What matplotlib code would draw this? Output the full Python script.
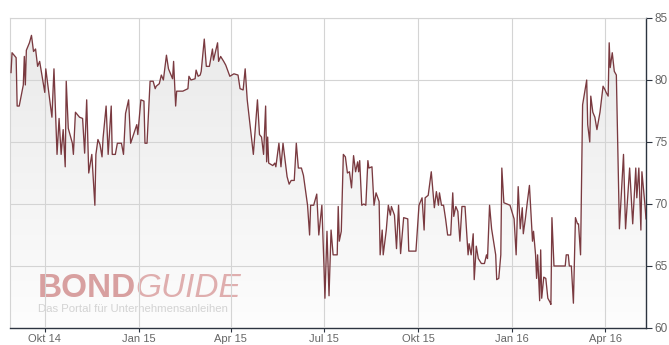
import numpy as np
import pandas as pd
import matplotlib
matplotlib.use("Agg")
import matplotlib.pyplot as plt
import matplotlib.dates as mdates
from matplotlib.colors import LinearSegmentedColormap
from matplotlib.patches import PathPatch

# bond price history
dates = [
    "2014-08-29", "2014-08-30", "2014-09-03", "2014-09-04", "2014-09-06", "2014-09-10", "2014-09-11",
    "2014-09-12", "2014-09-13", "2014-09-16", "2014-09-18", "2014-09-20", "2014-09-22", "2014-09-24", "2014-09-26",
    "2014-10-01", "2014-10-02", "2014-10-08", "2014-10-10", "2014-10-13", "2014-10-15", "2014-10-17",
    "2014-10-19", "2014-10-21", "2014-10-22", "2014-10-24", "2014-10-28", "2014-10-29", "2014-10-31",
    "2014-11-04", "2014-11-07", "2014-11-09", "2014-11-11", "2014-11-13", "2014-11-16", "2014-11-19",
    "2014-11-20", "2014-11-22", "2014-11-24", "2014-11-26", "2014-11-27", "2014-11-30",
    "2014-12-02", "2014-12-05", "2014-12-06", "2014-12-09", "2014-12-11", "2014-12-15", "2014-12-17",
    "2014-12-19", "2014-12-22", "2014-12-24", "2014-12-30", "2014-12-31",
    "2015-01-03", "2015-01-06", "2015-01-07", "2015-01-09", "2015-01-12", "2015-01-15", "2015-01-17",
    "2015-01-18", "2015-01-21", "2015-01-23", "2015-01-25", "2015-01-28", "2015-01-30",
    "2015-02-03", "2015-02-04", "2015-02-06", "2015-02-07", "2015-02-13", "2015-02-18", "2015-02-19",
    "2015-02-21", "2015-02-25", "2015-02-26", "2015-02-28",
    "2015-03-02", "2015-03-03", "2015-03-06", "2015-03-08", "2015-03-11", "2015-03-14", "2015-03-15",
    "2015-03-19", "2015-03-20", "2015-03-22", "2015-03-25", "2015-03-27", "2015-03-31",
    "2015-04-04", "2015-04-08", "2015-04-10", "2015-04-13", "2015-04-15", "2015-04-17", "2015-04-23",
    "2015-04-27", "2015-04-29",
    "2015-05-01", "2015-05-03", "2015-05-05", "2015-05-06", "2015-05-07", "2015-05-08", "2015-05-12",
    "2015-05-14", "2015-05-15", "2015-05-18", "2015-05-20", "2015-05-22", "2015-05-26", "2015-05-28", "2015-05-30",
    "2015-06-02", "2015-06-04", "2015-06-06", "2015-06-09", "2015-06-11", "2015-06-15", "2015-06-17",
    "2015-06-18", "2015-06-21", "2015-06-24", "2015-06-26", "2015-06-29",
    "2015-07-01", "2015-07-02", "2015-07-04", "2015-07-06", "2015-07-08", "2015-07-10", "2015-07-14",
    "2015-07-15", "2015-07-16", "2015-07-18", "2015-07-20", "2015-07-22", "2015-07-24", "2015-07-26",
    "2015-07-28", "2015-07-30",
    "2015-08-01", "2015-08-03", "2015-08-04", "2015-08-05", "2015-08-07", "2015-08-09", "2015-08-11",
    "2015-08-13", "2015-08-14", "2015-08-17", "2015-08-19", "2015-08-21", "2015-08-24", "2015-08-25",
    "2015-08-27", "2015-08-28", "2015-08-31",
    "2015-09-02", "2015-09-04", "2015-09-05", "2015-09-08", "2015-09-10", "2015-09-12", "2015-09-14",
    "2015-09-17", "2015-09-21", "2015-09-22", "2015-09-29",
    "2015-10-02", "2015-10-05", "2015-10-07", "2015-10-08", "2015-10-11", "2015-10-14", "2015-10-17",
    "2015-10-19", "2015-10-21", "2015-10-22", "2015-10-24", "2015-10-26", "2015-10-28", "2015-10-30",
    "2015-11-02", "2015-11-04", "2015-11-05", "2015-11-07", "2015-11-09", "2015-11-11", "2015-11-13",
    "2015-11-16", "2015-11-19", "2015-11-20", "2015-11-22", "2015-11-24", "2015-11-25", "2015-11-27", "2015-11-29",
    "2015-12-02", "2015-12-05", "2015-12-07", "2015-12-08", "2015-12-10", "2015-12-12", "2015-12-16",
    "2015-12-17", "2015-12-19", "2015-12-21", "2015-12-22", "2015-12-24", "2015-12-27", "2015-12-30",
    "2016-01-03", "2016-01-05", "2016-01-07", "2016-01-09", "2016-01-11", "2016-01-12", "2016-01-14",
    "2016-01-16", "2016-01-18", "2016-01-21", "2016-01-22", "2016-01-24", "2016-01-25", "2016-01-26",
    "2016-01-28", "2016-01-29", "2016-01-30",
    "2016-02-01", "2016-02-03", "2016-02-05", "2016-02-07", "2016-02-08", "2016-02-09", "2016-02-11",
    "2016-02-22", "2016-02-23", "2016-02-25", "2016-02-26", "2016-02-28",
    "2016-03-01", "2016-03-03", "2016-03-05", "2016-03-06", "2016-03-08", "2016-03-10", "2016-03-14",
    "2016-03-15", "2016-03-17", "2016-03-18", "2016-03-20", "2016-03-22", "2016-03-24", "2016-03-27", "2016-03-30",
    "2016-04-01", "2016-04-02", "2016-04-04", "2016-04-05", "2016-04-06", "2016-04-08", "2016-04-10",
    "2016-04-12", "2016-04-15", "2016-04-19", "2016-04-21", "2016-04-25", "2016-04-28",
    "2016-05-01", "2016-05-02", "2016-05-04", "2016-05-06", "2016-05-07", "2016-05-10", "2016-05-11",
]

prices = [
    80.6, 82.2, 81.8, 77.9, 77.9, 79.6, 81.9,
    79.6, 82.4, 83.0, 83.6, 82.3, 82.5, 81.1, 81.5,
    79.0, 80.9, 77.0, 80.9, 74.0, 76.9, 74.0,
    76.0, 73.0, 79.9, 76.1, 74.9, 74.0, 77.4,
    77.0, 76.9, 74.1, 78.4, 72.5, 74.0, 69.9,
    74.0, 75.2, 74.8, 73.8, 75.3, 77.9,
    74.0, 77.9, 74.0, 74.0, 74.9, 74.9, 74.0,
    77.3, 78.4, 74.9, 76.4, 75.6,
    78.4, 78.3, 74.9, 74.9, 79.9, 79.9, 79.3,
    79.5, 79.7, 80.4, 80.0, 82.0, 80.9,
    80.1, 81.5, 77.9, 79.1, 79.1, 79.3, 80.3,
    80.0, 80.1, 80.8, 80.3,
    80.4, 80.7, 83.3, 81.1, 81.1, 82.5, 81.6,
    83.0, 81.5, 81.9, 81.5, 81.2, 80.3,
    80.5, 80.4, 79.3, 79.2, 80.9, 78.4, 74.0,
    78.4, 75.6,
    75.4, 74.0, 77.9, 73.4, 75.4, 73.3, 73.1,
    73.3, 73.0, 74.9, 73.0, 74.9, 72.2, 71.6, 71.9,
    71.9, 74.9, 72.9, 72.9, 72.3, 69.9, 67.5,
    69.9, 69.9, 70.8, 67.5, 69.9,
    65.1, 62.4, 67.8, 62.6, 67.9, 65.9, 65.9,
    69.8, 67.0, 67.8, 74.0, 73.8, 72.5, 72.6,
    71.3, 73.9,
    72.6, 73.4, 72.6, 73.5, 69.9, 70.0, 69.9,
    73.5, 72.9, 73.0, 69.9, 70.9, 70.2, 65.9,
    67.9, 65.9, 67.9,
    69.9, 69.1, 69.8, 69.1, 66.4, 69.9, 66.0,
    68.9, 68.8, 66.2, 66.2,
    69.9, 70.5, 67.9, 70.5, 70.7, 72.6, 69.7,
    71.0, 69.9, 70.9, 69.9, 69.9, 68.8, 67.5,
    67.5, 70.9, 69.0, 69.8, 69.4, 67.0, 69.8,
    69.8, 65.9, 66.8, 65.9, 67.6, 63.9, 66.6, 65.6,
    65.2, 65.2, 65.9, 65.6, 69.9, 68.0, 65.9,
    63.9, 64.0, 65.9, 72.9, 70.1, 70.0, 69.9,
    68.8, 65.9, 71.4, 68.0, 69.7, 67.6, 68.8,
    70.2, 71.5, 67.0, 67.8, 65.9, 64.0, 65.9,
    62.2, 66.3, 62.4,
    64.1, 64.0, 62.4, 62.1, 61.9, 68.9, 65.0,
    65.0, 65.9, 65.9, 65.0, 65.0,
    62.0, 68.9, 68.4, 68.4, 65.9, 78.0, 80.0,
    76.4, 75.0, 78.7, 77.4, 77.0, 76.0, 77.4, 79.5,
    79.2, 79.0, 78.7, 83.0, 81.0, 82.2, 80.7,
    80.4, 68.0, 74.0, 68.0, 72.9, 68.4,
    72.9, 70.5, 72.9, 67.9, 72.6, 69.9, 68.8,
]

tick_dates = ["2014-10-01", "2015-01-01", "2015-04-01", "2015-07-01",
              "2015-10-01", "2016-01-01", "2016-04-01"]
tick_labels = ["Okt 14", "Jan 15", "Apr 15", "Jul 15", "Okt 15", "Jan 16", "Apr 16"]
y_ticks = [60, 65, 70, 75, 80, 85]
x_range = ["2014-08-28", "2016-05-11"]

LINE_COLOR = "#7a3a40"
AXIS_COLOR = "#2c3440"
GRID_COLOR = "#d4d4d4"
LABEL_COLOR = "#666666"

plt.rcParams["font.family"] = ["Liberation Sans", "DejaVu Sans"]

t = pd.to_datetime(dates)
x0, x1 = mdates.date2num(pd.to_datetime(x_range))

W, H = 669, 345
fig = plt.figure(figsize=(W / 100, H / 100), dpi=100)
ax = fig.add_axes([10 / W, 17 / H, 636 / W, 310 / H])

# gradient under the line, clipped to the area below the curve
area = ax.fill_between(t, prices, 60, facecolor="none", edgecolor="none")
clip = PathPatch(area.get_paths()[0], transform=ax.transData,
                 facecolor="none", edgecolor="none")
ax.add_patch(clip)
fade = LinearSegmentedColormap.from_list("fade", ["#fdfdfd", "#e9e9e9"])
img = ax.imshow(np.linspace(0, 1, 256).reshape(-1, 1), cmap=fade, origin="lower",
                aspect="auto", extent=[x0, x1, 60, 85], zorder=1)
img.set_clip_path(clip)

ax.plot(t, prices, color=LINE_COLOR, lw=0.95, zorder=3)

ax.set_xlim(x0, x1)
ax.set_ylim(60, 85)
ax.set_axisbelow(False)
ax.grid(True, color=GRID_COLOR, lw=0.8, zorder=2)

ax.set_xticks(mdates.date2num(pd.to_datetime(tick_dates)))
ax.set_xticklabels(tick_labels)
ax.set_yticks(y_ticks)
ax.yaxis.tick_right()
ax.tick_params(axis="both", colors=AXIS_COLOR, labelcolor=LABEL_COLOR,
               labelsize=8, width=0.8, direction="out")
ax.tick_params(axis="x", length=3, pad=1)
ax.tick_params(axis="y", length=4, pad=2, labelsize=8.5)

for side in ["left", "top"]:
    ax.spines[side].set_color(GRID_COLOR)
    ax.spines[side].set_linewidth(0.8)
for side in ["right", "bottom"]:
    ax.spines[side].set_color(AXIS_COLOR)
    ax.spines[side].set_linewidth(1.0)

# watermark
ax.text(0.044, 0.1, "BOND", transform=ax.transAxes, fontsize=24,
        fontweight="bold", color="#d8a0a0", va="baseline", ha="left", zorder=1.5)
ax.text(0.197, 0.1, "GUIDE", transform=ax.transAxes, fontsize=24,
        fontstyle="italic", color="#dfaeae", va="baseline", ha="left", zorder=1.5)
ax.text(0.044, 0.05, "Das Portal für Unternehmensanleihen", transform=ax.transAxes,
        fontsize=8.2, color="#d3d3d3", va="baseline", ha="left", zorder=1.5)

fig.savefig("out.png", dpi=100, facecolor="white")
